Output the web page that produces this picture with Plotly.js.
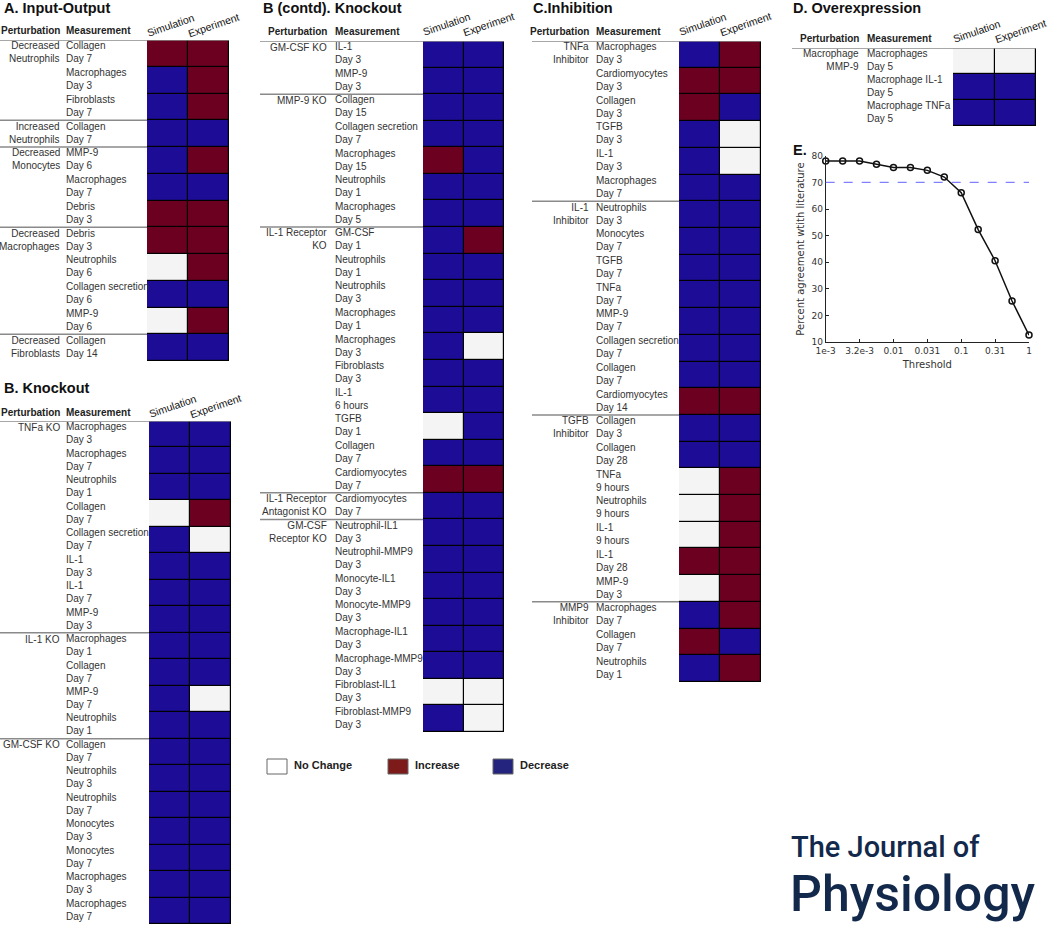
<!DOCTYPE html>
<html><head><meta charset="utf-8">
<script src="https://cdn.plot.ly/plotly-3.0.1.min.js"></script>
<style>html,body{margin:0;padding:0;background:#fff}#chart{width:1050px;height:925px}</style>
</head><body><div id="chart"></div>
<script>
// ---------------- DATA ----------------
const colLabels = ["Simulation", "Experiment"];
const legendLabels = ["No Change", "Increase", "Decrease"];

// A. Input-Output
const A_pert = ["Decreased<br>Neutrophils","","","Increased<br>Neutrophils","Decreased<br>Monocytes","","","Decreased<br>Macrophages","","","","Decreased<br>Fibroblasts"];
const A_meas = ["Collagen<br>Day 7","Macrophages<br>Day 3","Fibroblasts<br>Day 7","Collagen<br>Day 7","MMP-9<br>Day 6","Macrophages<br>Day 7","Debris<br>Day 3","Debris<br>Day 3","Neutrophils<br>Day 6","Collagen secretion<br>Day 6","MMP-9<br>Day 6","Collagen<br>Day 14"];
const A_sim = ["I","D","D","D","D","D","I","I","N","D","N","D"];
const A_exp = ["I","I","I","D","I","D","I","I","I","D","I","D"];

// B. Knockout
const B_pert = ["TNFa KO","","","","","","","","IL-1 KO","","","","GM-CSF KO","","","","","",""];
const B_meas = ["Macrophages<br>Day 3","Macrophages<br>Day 7","Neutrophils<br>Day 1","Collagen<br>Day 7","Collagen secretion<br>Day 7","IL-1<br>Day 3","IL-1<br>Day 7","MMP-9<br>Day 3","Macrophages<br>Day 1","Collagen<br>Day 7","MMP-9<br>Day 7","Neutrophils<br>Day 1","Collagen<br>Day 7","Neutrophils<br>Day 3","Neutrophils<br>Day 7","Monocytes<br>Day 3","Monocytes<br>Day 7","Macrophages<br>Day 3","Macrophages<br>Day 7"];
const B_sim = ["D","D","D","N","D","D","D","D","D","D","D","D","D","D","D","D","D","D","D"];
const B_exp = ["D","D","D","I","N","D","D","D","D","D","N","D","D","D","D","D","D","D","D"];

// B (contd). Knockout
const B2_pert = ["GM-CSF KO","","MMP-9 KO","","","","","IL-1 Receptor<br>KO","","","","","","","","","","IL-1 Receptor<br>Antagonist KO","GM-CSF<br>Receptor KO","","","","","","",""];
const B2_meas = ["IL-1<br>Day 3","MMP-9<br>Day 3","Collagen<br>Day 15","Collagen secretion<br>Day 7","Macrophages<br>Day 15","Neutrophils<br>Day 1","Macrophages<br>Day 5","GM-CSF<br>Day 1","Neutrophils<br>Day 1","Neutrophils<br>Day 3","Macrophages<br>Day 1","Macrophages<br>Day 3","Fibroblasts<br>Day 3","IL-1<br>6 hours","TGFB<br>Day 1","Collagen<br>Day 7","Cardiomyocytes<br>Day 7","Cardiomyocytes<br>Day 7","Neutrophil-IL1<br>Day 3","Neutrophil-MMP9<br>Day 3","Monocyte-IL1<br>Day 3","Monocyte-MMP9<br>Day 3","Macrophage-IL1<br>Day 3","Macrophage-MMP9<br>Day 3","Fibroblast-IL1<br>Day 3","Fibroblast-MMP9<br>Day 3"];
const B2_sim = ["D","D","D","D","I","D","D","D","D","D","D","D","D","D","N","D","I","D","D","D","D","D","D","D","N","D"];
const B2_exp = ["D","D","D","D","D","D","D","I","D","D","D","N","D","D","D","D","I","D","D","D","D","D","D","D","N","N"];

// C. Inhibition
const C_pert = ["TNFa<br>Inhibitor","","","","","","IL-1<br>Inhibitor","","","","","","","","TGFB<br>Inhibitor","","","","","","","MMP9<br>Inhibitor","",""];
const C_meas = ["Macrophages<br>Day 3","Cardiomyocytes<br>Day 3","Collagen<br>Day 3","TGFB<br>Day 3","IL-1<br>Day 3","Macrophages<br>Day 7","Neutrophils<br>Day 3","Monocytes<br>Day 7","TGFB<br>Day 7","TNFa<br>Day 7","MMP-9<br>Day 7","Collagen secretion<br>Day 7","Collagen<br>Day 7","Cardiomyocytes<br>Day 14","Collagen<br>Day 3","Collagen<br>Day 28","TNFa<br>9 hours","Neutrophils<br>9 hours","IL-1<br>9 hours","IL-1<br>Day 28","MMP-9<br>Day 3","Macrophages<br>Day 7","Collagen<br>Day 7","Neutrophils<br>Day 1"];
const C_sim = ["D","I","I","D","D","D","D","D","D","D","D","D","D","I","D","D","N","N","N","I","N","D","I","D"];
const C_exp = ["I","I","D","N","N","D","D","D","D","D","D","D","D","I","D","D","I","I","I","I","I","I","D","I"];

// D. Overexpression
const D_pert = ["Macrophage<br>MMP-9","",""];
const D_meas = ["Macrophages<br>Day 5","Macrophage IL-1<br>Day 5","Macrophage TNFa<br>Day 5"];
const D_sim = ["N","D","D"];
const D_exp = ["N","D","D"];

// E. Threshold sweep
const E_threshold = [0.001, 0.00178, 0.00316, 0.00562, 0.01, 0.0178, 0.0316, 0.0562, 0.1, 0.178, 0.316, 0.562, 1];
const E_agreement = [78, 78, 78, 76.8, 75.6, 75.6, 74.5, 72, 66.1, 52.3, 40.6, 25.5, 12.7];
const E_tickVals = [0.001, 0.00316, 0.01, 0.0316, 0.1, 0.316, 1];
const E_tickText = ["1e-3", "3.2e-3", "0.01", "0.031", "0.1", "0.31", "1"];
const E_target = 70;

// ---------------- LAYOUT HELPERS ----------------
const W = 1050, H = 925;
const px = v => v / W, py = v => 1 - v / H;
const CODE = {I: 1, N: 0, D: -1};
const COL = {inc: '#6b0021', dec: '#1c0c96', none: '#f4f4f4'};
const LBL_FONT = 'Liberation Sans, Arial, sans-serif';

const panels = [
  {title: 'A. Input-Output', tx: 2, ty: 8, hy: 31, lx: 0, pr: 62, ml: 64, cx0: 147, cx1: 229, ry0: 40, ry1: 361, colShift: 15, pert: A_pert, meas: A_meas, sim: A_sim, exp: A_exp},
  {title: 'B. Knockout', tx: 2, ty: 388, hy: 412, lx: 0, pr: 62, ml: 64, cx0: 149, cx1: 231, ry0: 421, ry1: 924, colShift: 15, pert: B_pert, meas: B_meas, sim: B_sim, exp: B_exp},
  {title: 'B (contd). Knockout', tx: 261, ty: 8, hy: 32, lx: 260, pr: 329, ml: 333, cx0: 423, cx1: 504, ry0: 41, ry1: 732, colShift: 17, pert: B2_pert, meas: B2_meas, sim: B2_sim, exp: B2_exp},
  {title: 'C.Inhibition', tx: 531, ty: 8, hy: 32, lx: 532, pr: 591, ml: 594, cx0: 679, cx1: 761, ry0: 41, ry1: 682, colShift: 17, pert: C_pert, meas: C_meas, sim: C_sim, exp: C_exp},
  {title: 'D. Overexpression', tx: 791, ty: 8, hy: 38, lx: 792, pr: 861, ml: 865, cx0: 953, cx1: 1036, ry0: 48, ry1: 126, colShift: 17, pert: D_pert, meas: D_meas, sim: D_sim, exp: D_exp}
];

const data = [];
const layout = {
  width: W, height: H,
  margin: {l: 0, r: 0, t: 0, b: 0},
  paper_bgcolor: '#ffffff',
  plot_bgcolor: 'rgba(0,0,0,0)',
  showlegend: false,
  font: {family: LBL_FONT, color: '#333'},
  shapes: [],
  annotations: []
};

panels.forEach((p, i) => {
  const k = i + 1;
  const xa = 'x' + k, ya = 'y' + k;
  const n = p.meas.length;
  const rows = p.meas.map((_, r) => r);
  data.push({
    type: 'heatmap', xaxis: xa, yaxis: ya,
    x: [0, 1], y: rows,
    z: rows.map(r => [CODE[p.sim[r]], CODE[p.exp[r]]]),
    zmin: -1, zmax: 1,
    colorscale: [[0, COL.dec], [0.5, COL.none], [1, COL.inc]],
    showscale: false, xgap: 1.2, ygap: 1.2, hoverinfo: 'skip'
  });
  layout['xaxis' + (k === 1 ? '' : k)] = {
    domain: [px(p.cx0), px(p.cx1)], range: [-0.5, 1.5], anchor: ya,
    showgrid: false, zeroline: false, showticklabels: false, ticks: '', fixedrange: true
  };
  layout['yaxis' + (k === 1 ? '' : k)] = {
    domain: [py(p.ry1), py(p.ry0)], range: [n - 0.5, -0.5], anchor: xa,
    showgrid: false, zeroline: false, showticklabels: false, ticks: '', fixedrange: true
  };
  layout.shapes.push({type: 'rect', layer: 'below', xref: xa, yref: ya, x0: -0.5, x1: 1.5, y0: -0.5, y1: n - 0.5,
    fillcolor: '#000', line: {color: '#000', width: 1}});
  layout.shapes.push({type: 'line', xref: 'paper', yref: ya, x0: px(p.lx), x1: px(p.cx1), y0: -0.5, y1: -0.5,
    line: {color: '#8a8a8a', width: 1.5}});
  layout.annotations.push({xref: 'paper', yref: 'paper', x: px(p.tx), y: py(p.ty), xanchor: 'left', yanchor: 'middle',
    text: '<b>' + p.title + '</b>', showarrow: false, font: {size: 14.5, color: '#111', family: LBL_FONT}});
  layout.annotations.push({xref: 'paper', yref: 'paper', x: px(p.pr), y: py(p.hy), xanchor: 'right', yanchor: 'middle',
    text: '<b>Perturbation</b>', showarrow: false, font: {size: 10, color: '#222'}});
  layout.annotations.push({xref: 'paper', yref: 'paper', x: px(p.ml), y: py(p.hy), xanchor: 'left', yanchor: 'middle',
    text: '<b>Measurement</b>', showarrow: false, font: {size: 10, color: '#222'}});
  colLabels.forEach((c, j) => {
    layout.annotations.push({xref: xa, yref: ya, x: j, y: -0.5, xanchor: 'center', yanchor: 'middle',
      xshift: 3 + 2 * j, yshift: p.colShift, textangle: -19, text: c, showarrow: false, font: {size: 10.5, color: '#111'}});
  });
  rows.forEach(r => {
    layout.annotations.push({xref: 'paper', yref: ya, x: px(p.ml), y: r, xanchor: 'left', yanchor: 'middle', align: 'left',
      yshift: 1, text: p.meas[r], showarrow: false, font: {size: 10, color: '#333'}});
    if (p.pert[r]) {
      const multi = p.pert[r].indexOf('<br>') >= 0;
      layout.annotations.push({xref: 'paper', yref: ya, x: px(p.pr), y: r, xanchor: 'right', yanchor: 'middle', align: 'right',
        yshift: multi ? 1 : 7, text: p.pert[r], showarrow: false, font: {size: 10, color: '#333'}});
      if (r > 0) {
        layout.shapes.push({type: 'line', xref: 'paper', yref: ya, x0: px(p.lx), x1: px(p.cx0), y0: r - 0.5, y1: r - 0.5,
          line: {color: '#8a8a8a', width: 1.5}});
      }
    }
  });
});

// ---------------- Panel E ----------------
data.push({
  type: 'scatter', mode: 'lines+markers', xaxis: 'x6', yaxis: 'y6',
  x: E_threshold, y: E_agreement, cliponaxis: false,
  line: {color: '#111', width: 1.5},
  marker: {symbol: 'circle-open', size: 6, color: '#111', line: {width: 1.5, color: '#111'}},
  hoverinfo: 'skip'
});
const EFONT = 'DejaVu Sans, sans-serif';
layout.xaxis6 = {
  domain: [px(825.7), px(1029)], type: 'log', range: [-3, 0], anchor: 'y6',
  tickvals: E_tickVals, ticktext: E_tickText, ticks: 'inside', ticklen: 3, tickcolor: '#222',
  showline: true, linecolor: '#222', linewidth: 1, showgrid: false, zeroline: false,
  tickfont: {family: EFONT, size: 9, color: '#333'},
  title: {text: 'Threshold', font: {family: EFONT, size: 10, color: '#333'}, standoff: 5},
  fixedrange: true
};
layout.yaxis6 = {
  domain: [py(342.3), py(155.7)], range: [10, 80], anchor: 'x6', dtick: 10,
  ticks: 'inside', ticklen: 3, tickcolor: '#222',
  showline: true, linecolor: '#222', linewidth: 1, showgrid: false, zeroline: false,
  tickfont: {family: EFONT, size: 9, color: '#333'},
  title: {text: 'Percent agreement wtith literature', font: {family: EFONT, size: 10, color: '#333'}, standoff: 4},
  fixedrange: true
};
layout.shapes.push({type: 'line', xref: 'x6 domain', yref: 'y6', x0: 0, x1: 1, y0: E_target, y1: E_target,
  line: {color: '#8080ff', width: 1.3, dash: 'dash'}});
layout.annotations.push({xref: 'paper', yref: 'paper', x: px(791), y: py(150), xanchor: 'left', yanchor: 'middle',
  text: '<b>E.</b>', showarrow: false, font: {size: 14.5, color: '#111', family: LBL_FONT}});

// ---------------- Legend ----------------
const legendFills = ['#ffffff', '#7d1a1a', '#24247f'];
const legendX = [267, 388, 493];
legendLabels.forEach((t, j) => {
  layout.shapes.push({type: 'rect', xref: 'paper', yref: 'paper', x0: px(legendX[j]), x1: px(legendX[j] + 20),
    y0: py(774), y1: py(759), fillcolor: legendFills[j], line: {color: '#666', width: 1}});
  layout.annotations.push({xref: 'paper', yref: 'paper', x: px(legendX[j] + 25), y: py(765), xanchor: 'left', yanchor: 'middle',
    text: '<b>' + t + '</b>', showarrow: false, font: {size: 11, color: '#222'}});
});

// ---------------- Journal logo ----------------
const LOGO_FONT = 'Roboto, Noto Sans, sans-serif';
layout.annotations.push({xref: 'paper', yref: 'paper', x: px(790), y: py(865), xanchor: 'left', yanchor: 'bottom', borderpad: 0,
  text: 'The Journal of', showarrow: false, font: {family: LOGO_FONT, size: 29, color: '#13294b', weight: 500}});
layout.annotations.push({xref: 'paper', yref: 'paper', x: px(789), y: py(924), xanchor: 'left', yanchor: 'bottom', borderpad: 0,
  text: 'Physiology', showarrow: false, font: {family: LOGO_FONT, size: 50, color: '#13294b', weight: 500}});

Plotly.newPlot('chart', data, layout, {displayModeBar: false, staticPlot: true});
</script>
</body></html>
